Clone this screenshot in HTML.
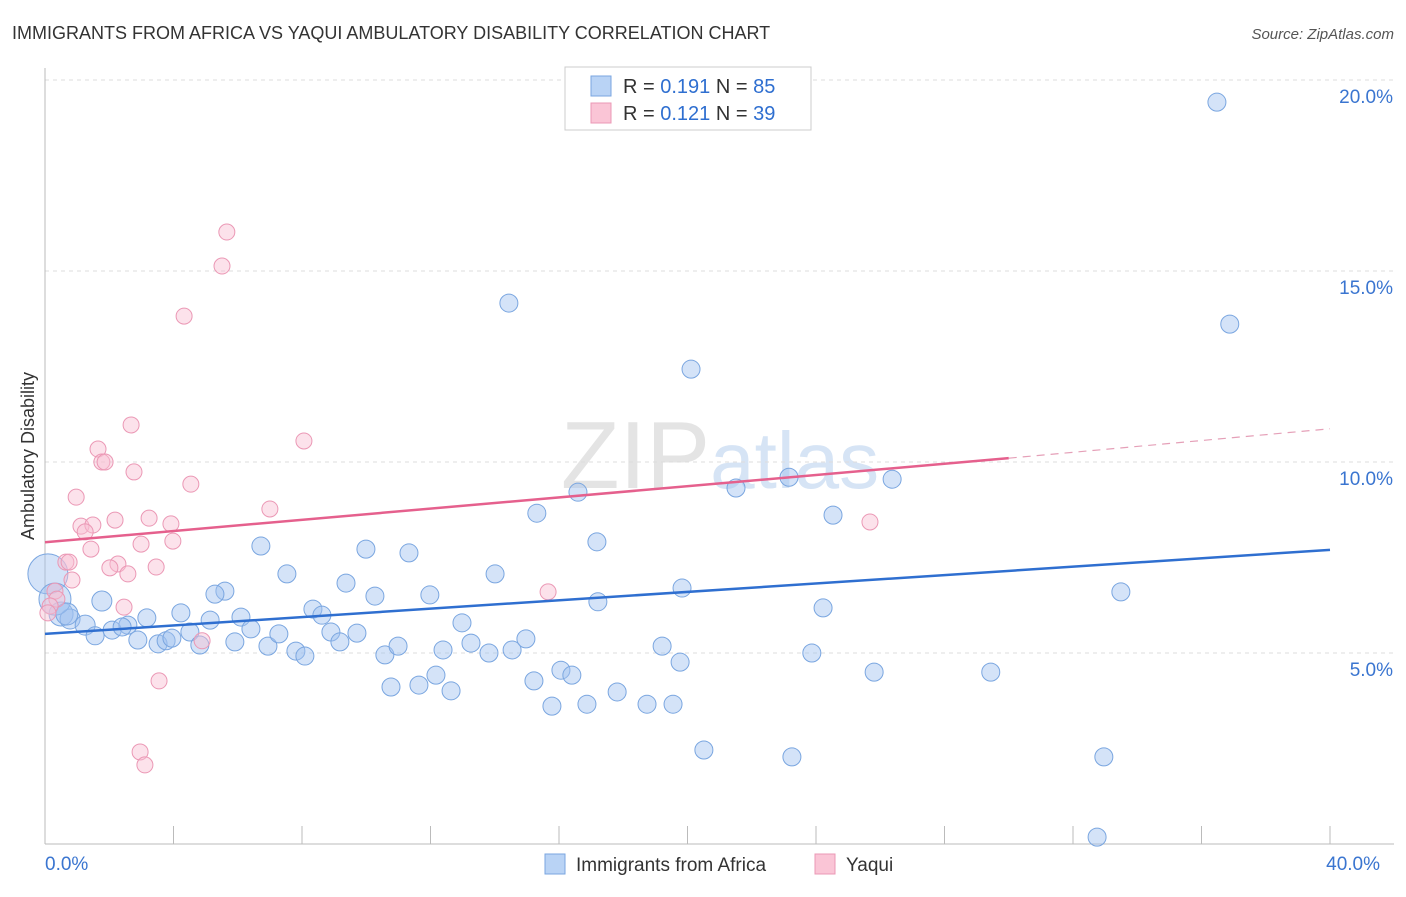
<!DOCTYPE html>
<html><head><meta charset="utf-8"><style>
body{margin:0;background:#fff;font-family:"Liberation Sans",sans-serif}
svg text{font-family:"Liberation Sans",sans-serif}
</style></head><body>
<svg id="chart" width="1406" height="892">
<text x="12" y="39" font-size="18" fill="#333">IMMIGRANTS FROM AFRICA VS YAQUI AMBULATORY DISABILITY CORRELATION CHART</text>
<text x="1394" y="39" font-size="15" fill="#555" text-anchor="end" font-style="italic">Source: ZipAtlas.com</text>
<text x="720" y="488" font-size="96" fill="#e4e4e4" text-anchor="middle" font-family="Liberation Serif">ZIP<tspan fill="#d6e4f5" font-family="Liberation Sans" font-size="80">atlas</tspan></text>
<g id="grid"></g>
<g id="axes"></g>
<g id="marks"></g>
<text transform="translate(34,456) rotate(-90)" font-size="18" fill="#333" text-anchor="middle">Ambulatory Disability</text>
<g>
<rect x="565" y="67" width="246" height="63" fill="#fff" stroke="#ccc"/>
<rect x="591" y="76" width="20" height="20" fill="#b9d3f5" stroke="#7aa6e0"/>
<rect x="591" y="103" width="20" height="20" fill="#fac5d6" stroke="#eb98b5"/>
<text x="623" y="93" font-size="20" fill="#333">R = <tspan fill="#2f6fd0">0.191</tspan>   N = <tspan fill="#2f6fd0">85</tspan></text>
<text x="623" y="120" font-size="20" fill="#333">R = <tspan fill="#2f6fd0">0.121</tspan>   N = <tspan fill="#2f6fd0">39</tspan></text>
</g>
<g>
<rect x="545" y="854" width="20" height="20" fill="#b9d3f5" stroke="#7aa6e0"/>
<text x="576" y="871" font-size="19" fill="#333">Immigrants from Africa</text>
<rect x="815" y="854" width="20" height="20" fill="#fac5d6" stroke="#eb98b5"/>
<text x="846" y="871" font-size="19" fill="#333">Yaqui</text>
</g>
</svg>
<script>
const yTicks=[5,10,15,20];
const yTickLabels=["5.0%","10.0%","15.0%","20.0%"];
const xTickLabels=["0.0%","40.0%"];
const blueX=[36.48,14.44,36.88,20.11,16.59,21.51,23.16,26.37,15.31,24.53,17.18,6.72,9.99,11.33,7.53,14.01,9.37,5.6,5.29,10.27,11.98,33.49,17.21,19.83,8.34,8.62,24.22,1.77,3.17,4.23,5.14,6.1,0.5,0.78,1.25,2.09,2.58,2.4,1.56,2.89,3.52,3.77,3.95,4.51,4.82,5.91,6.41,6.94,7.28,7.81,8.09,8.9,9.18,9.71,10.58,10.99,12.39,12.98,13.26,13.82,14.54,14.97,19.21,19.77,23.87,25.81,29.44,15.22,16.06,16.4,10.77,11.64,12.17,12.64,17.81,15.78,16.87,18.74,19.55,20.51,23.25,32.96,32.75,0.09,0.31,0.68];
const blueY=[19.42,14.16,13.61,12.43,9.21,9.32,9.6,9.55,8.66,8.61,7.91,7.8,7.72,7.62,7.07,7.07,6.83,6.62,6.54,6.49,6.52,6.6,6.34,6.7,6.15,5.99,6.18,6.36,5.92,6.05,5.86,5.94,6.02,5.89,5.73,5.6,5.73,5.68,5.45,5.34,5.24,5.32,5.39,5.55,5.21,5.29,5.63,5.18,5.5,5.05,4.92,5.55,5.29,5.52,4.95,5.18,5.08,5.79,5.26,5.0,5.08,5.37,5.18,4.76,5.0,4.5,4.5,4.27,4.55,4.42,4.11,4.16,4.42,4.01,3.98,3.61,3.66,3.66,3.66,2.46,2.28,2.28,0.18,7.07,6.41,6.02];
const blueR=[9,9,9,9,9,9,9,9,9,9,9,9,9,9,9,9,9,9,9,9,9,9,9,9,9,9,9,10,9,9,9,9,12,10,10,9,9,9,9,9,9,9,9,9,9,9,9,9,9,9,9,9,9,9,9,9,9,9,9,9,9,9,9,9,9,9,9,9,9,9,9,9,9,9,9,9,9,9,9,9,9,9,9,20,16,11];
const pinkX=[5.66,5.51,4.33,2.68,8.06,1.65,1.77,1.87,2.77,4.54,0.97,7.0,3.24,2.18,3.92,1.12,1.49,1.25,2.99,3.98,1.43,0.65,0.75,2.27,2.02,3.46,2.58,0.84,0.31,0.37,0.16,2.46,0.09,4.89,15.66,25.68,3.55,2.96,3.11];
const pinkY=[16.02,15.13,13.82,10.97,10.55,10.34,10.0,10.0,9.74,9.42,9.08,8.77,8.53,8.48,8.38,8.32,8.35,8.17,7.85,7.93,7.72,7.38,7.38,7.33,7.23,7.25,7.07,6.91,6.62,6.41,6.23,6.2,6.05,5.32,6.6,8.43,4.27,2.41,2.07];
const blueTrend=[5.5,7.7];
const pinkTrend=[7.9,10.1,10.87];
const X0=45,X1=1330,Y0=844,PX=(X1-X0)/40,PY=38.2;
const sx=v=>X0+v*PX, sy=v=>Y0-v*PY;
const NS="http://www.w3.org/2000/svg";
function mk(tag,attrs,parent){const e=document.createElementNS(NS,tag);for(const k in attrs)e.setAttribute(k,attrs[k]);document.getElementById(parent).appendChild(e);return e;}
yTicks.forEach((t,i)=>{
 const l=mk('line',{x1:X0,x2:1394,y1:sy(t),y2:sy(t),stroke:'#ddd','stroke-dasharray':'4,4'},'grid');
 
 
 const tx=mk('text',{x:1393,y:sy(t)+23,'font-size':19,fill:'#3a75d0','text-anchor':'end'},'grid');
 tx.textContent=yTickLabels[i];
 
 
});
const ax=mk('line',{x1:X0,x2:X0,y1:68,y2:Y0,stroke:'#bbb'},'axes');


const bx=mk('line',{x1:X0,x2:1394,y1:Y0,y2:Y0,stroke:'#bbb'},'axes');


for(let i=0;i<=10;i++){const t=mk('line',{x1:sx(i*4),x2:sx(i*4),y1:826,y2:Y0,stroke:'#bbb'},'axes');
 
 }
[[0,'start'],[40,'end']].forEach((p,i)=>{const t=mk('text',{x:sx(p[0])+(i?50:0),y:870,'font-size':19,fill:'#3a75d0','text-anchor':p[1]},'axes');
 t.textContent=xTickLabels[i];
 
 });
blueX.forEach((x,i)=>{const c=mk('circle',{cx:sx(x),cy:sy(blueY[i]),r:blueR[i],fill:'rgba(160,192,240,0.45)',stroke:'#7aa6e0','stroke-width':1},'marks');
 
 });
pinkX.forEach((x,i)=>{const c=mk('circle',{cx:sx(x),cy:sy(pinkY[i]),r:8,fill:'rgba(248,190,210,0.45)',stroke:'#eb98b5','stroke-width':1},'marks');
 
 });
const bl=mk('line',{x1:sx(0),y1:sy(blueTrend[0]),x2:sx(40),y2:sy(blueTrend[1]),stroke:'#2f6fd0','stroke-width':2.5},'marks');


const pl=mk('line',{x1:sx(0),y1:sy(pinkTrend[0]),x2:sx(30),y2:sy(pinkTrend[1]),stroke:'#e5608d','stroke-width':2.5},'marks');


const pd=mk('line',{x1:sx(30),y1:sy(pinkTrend[1]),x2:sx(40),y2:sy(pinkTrend[2]),stroke:'#e5a0b8','stroke-width':1.2,'stroke-dasharray':'8,6'},'marks');


</script>
</body></html>
